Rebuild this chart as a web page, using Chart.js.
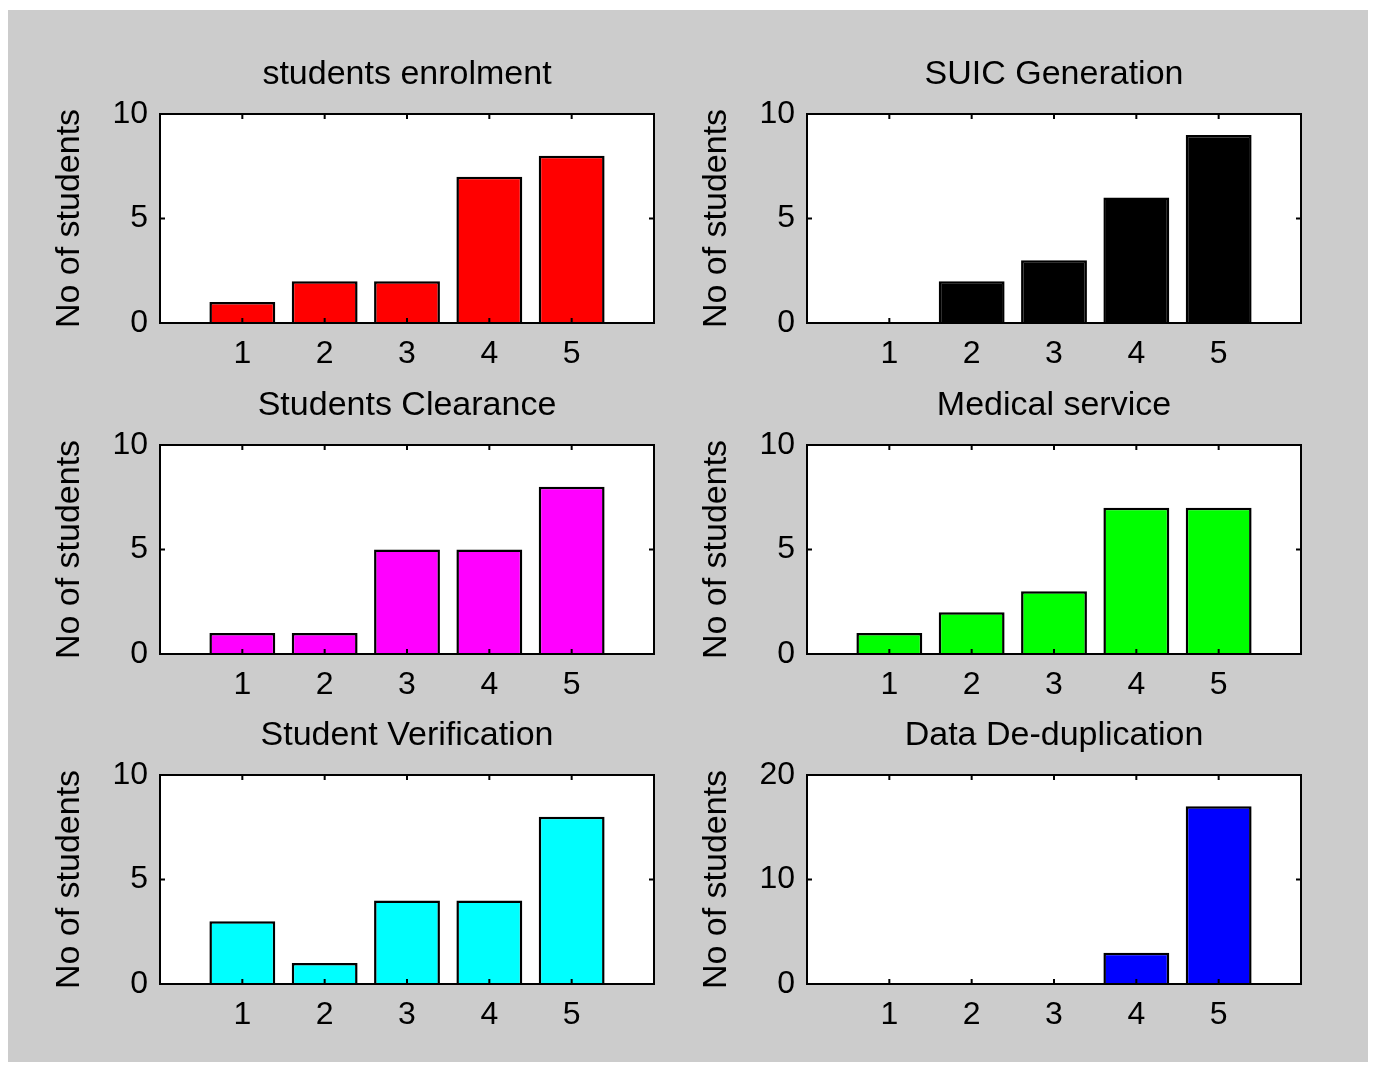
<!DOCTYPE html>
<html lang="en">
<head>
    <meta charset="UTF-8">
    <script src="https://cdn.jsdelivr.net/npm/chart.js"></script>
    <title>Students bars</title>
    <style>
        body { margin: 0; background: #fff; overflow: hidden; }
        #fundo {
            position: absolute;
            left: 8px; top: 10px;
            width: 1360px; height: 1052px;
            background: #cccccc;
        }
        canvas { position: absolute; }
    </style>
</head>
<body>
    <div id="fundo"></div>
    <canvas id="g1"></canvas>
    <canvas id="g2"></canvas>
    <canvas id="g3"></canvas>
    <canvas id="g4"></canvas>
    <canvas id="g5"></canvas>
    <canvas id="g6"></canvas>

<script>
    // dados
    var categorias = [1, 2, 3, 4, 5]
    var enrolment = [1, 2, 2, 7, 8]
    var suic = [0, 2, 3, 6, 9]
    var clearance = [1, 1, 5, 5, 8]
    var medical = [1, 2, 3, 7, 7]
    var verification = [3, 1, 4, 4, 8]
    var dedup = [0, 0, 0, 3, 17]

    var titulos = ['students enrolment', 'SUIC Generation', 'Students Clearance',
        'Medical service', 'Student Verification', 'Data De-duplication']
    var series = [enrolment, suic, clearance, medical, verification, dedup]
    var cores = ['#ff0000', '#000000', '#ff00ff', '#00ff00', '#00ffff', '#0000ff']
    var yMax = [10, 10, 10, 10, 10, 20]
    var yPasso = [5, 5, 5, 5, 5, 10]
    var yLabel = 'No of students'

    // posicao de cada canvas (area do grafico 494x209)
    // canvas simetrico para o titulo ficar centrado sobre a area do grafico
    var W = 152 + 494 + 152, H = 349
    var colunas = [8, 655]
    var linhas = [34, 365, 695]

    // fundo branco, caixa e ticks para dentro (estilo matlab)
    const caixa = {
        id: 'caixa',
        beforeDraw(chart) {
            const { ctx, chartArea: a } = chart
            ctx.save()
            ctx.fillStyle = '#fff'
            ctx.fillRect(a.left, a.top, a.width, a.height)
            ctx.restore()
        },
        afterDatasetsDraw(chart) {
            const { ctx, chartArea: a, scales: { x, y } } = chart
            ctx.save()
            ctx.strokeStyle = '#000'
            ctx.lineWidth = 2
            ctx.strokeRect(a.left, a.top, a.width, a.height)
            ctx.beginPath()
            x.ticks.forEach(t => {
                const px = x.getPixelForValue(t.value)
                ctx.moveTo(px, a.bottom); ctx.lineTo(px, a.bottom - 5)
                ctx.moveTo(px, a.top); ctx.lineTo(px, a.top + 5)
            })
            y.ticks.forEach(t => {
                const py = y.getPixelForValue(t.value)
                ctx.moveTo(a.left, py); ctx.lineTo(a.left + 5, py)
                ctx.moveTo(a.right, py); ctx.lineTo(a.right - 5, py)
            })
            ctx.stroke()
            ctx.restore()
        }
    }

    function plotar(i) {
        const canvas = document.getElementById('g' + (i + 1))
        canvas.width = W
        canvas.height = H
        canvas.style.width = W + 'px'
        canvas.style.height = H + 'px'
        canvas.style.left = colunas[i % 2] + 'px'
        canvas.style.top = linhas[Math.floor(i / 2)] + 'px'

        const pontos = categorias.map((c, k) => ({ x: c, y: series[i][k] }))

        new Chart(canvas, {
            type: 'bar',
            data: {
                datasets: [{
                    data: pontos,
                    backgroundColor: cores[i],
                    borderColor: '#000',
                    borderWidth: 2.5,
                    barPercentage: 0.8,
                    categoryPercentage: 1,
                    yAxisID: 'y'
                }]
            },
            options: {
                responsive: false,
                animation: false,
                layout: { padding: 0 },
                plugins: {
                    legend: { display: false },
                    tooltip: { enabled: false },
                    title: {
                        display: true,
                        text: titulos[i],
                        color: '#000',
                        font: { family: 'Liberation Sans', size: 34, weight: 'normal', lineHeight: 1 },
                        padding: { top: 24, bottom: 22 }
                    }
                },
                scales: {
                    x: {
                        type: 'linear',
                        min: 0,
                        max: 6,
                        offset: false,
                        grid: { display: false, drawTicks: false },
                        border: { display: false },
                        afterBuildTicks: s => { s.ticks = categorias.map(v => ({ value: v })) },
                        afterFit: s => { s.height = 60 },
                        ticks: {
                            color: '#000',
                            padding: 15,
                            maxRotation: 0,
                            font: { family: 'Liberation Sans', size: 32, lineHeight: 1 }
                        }
                    },
                    y: {
                        min: 0,
                        max: yMax[i],
                        grid: { display: false, drawTicks: false },
                        border: { display: false },
                        afterFit: s => { s.width = 152 },
                        ticks: {
                            stepSize: yPasso[i],
                            color: '#000',
                            padding: 12,
                            font: { family: 'Liberation Sans', size: 32, lineHeight: 1 }
                        },
                        title: {
                            display: true,
                            text: yLabel,
                            color: '#000',
                            font: { family: 'Liberation Sans', size: 34, lineHeight: 1 },
                            padding: { top: 45, bottom: 0 }
                        }
                    },
                    // eixo vazio a direita so para equilibrar o espaco
                    yDir: {
                        position: 'right',
                        min: 0,
                        max: yMax[i],
                        grid: { display: false, drawTicks: false },
                        border: { display: false },
                        ticks: { display: false },
                        afterFit: s => { s.width = 152 }
                    }
                }
            },
            plugins: [caixa]
        })
    }

    for (let i = 0; i < 6; i++) {
        plotar(i)
    }
</script>
</body>
</html>
